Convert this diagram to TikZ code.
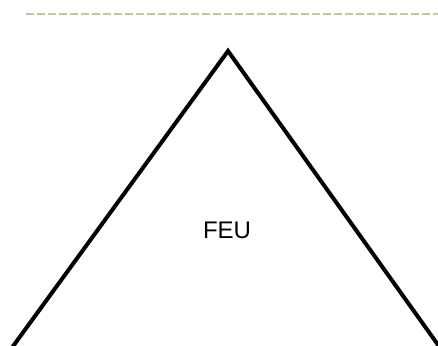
\documentclass[tikz,border=0pt]{standalone}
\usepackage{fontspec}
\setmainfont{Liberation Sans}
\definecolor{khaki}{RGB}{201,195,160}
\begin{document}
\begin{tikzpicture}[x=1pt,y=1pt,
  tri/.style={draw=black,line width=4pt,line join=miter},
  rule/.style={draw=khaki,line width=2.5pt,dash pattern=on 8pt off 3pt},
  lbl/.style={font=\fontsize{24}{28}\selectfont,inner sep=0pt}]
\useasboundingbox (0,0) rectangle (438,345);
\clip (0,0) rectangle (438,345);
\coordinate (rl) at (26,331);
\coordinate (rr) at (440,331);
\draw[rule] (rl) -- (rr);
\coordinate (apex) at (228,294);
\coordinate (bl) at (11,-4);
\coordinate (br) at (441,-4);
\draw[tri] (bl) -- (apex) -- (br);
\node[lbl] (feu) at (227,115) {FEU};
\end{tikzpicture}
\end{document}
